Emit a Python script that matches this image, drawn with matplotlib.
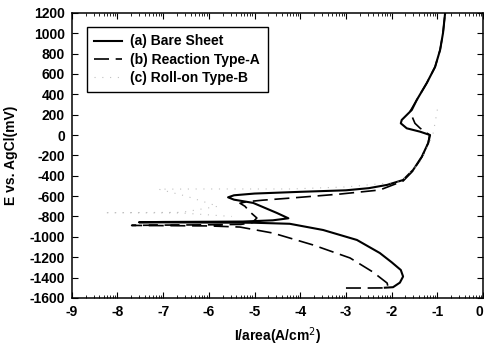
import numpy as np
import matplotlib.pyplot as plt
from matplotlib.ticker import FixedLocator

plt.rcParams['font.family'] = ['Liberation Sans', 'DejaVu Sans']
plt.rcParams['axes.unicode_minus'] = False

# (a) Bare Sheet - log current density vs potential
a_x = [-2.15, -1.97, -1.82, -1.75, -1.80, -2.00, -2.26, -2.76, -3.50, -4.23, -5.0, -6.0, -7.0, -7.53,
       -7.0, -6.0, -5.26, -4.60, -4.26, -4.51, -5.03, -5.45, -5.58, -5.45, -5.0, -4.0, -3.0, -2.5,
       -2.10, -1.75, -1.53, -1.34, -1.20, -1.16, -1.38, -1.67, -1.80, -1.78, -1.56, -1.45, -1.23,
       -1.05, -0.94, -0.876, -0.83]
a_y = [-1500, -1495, -1450, -1390, -1326, -1250, -1159, -1031, -933, -872, -862, -860, -858, -857,
       -854, -852, -850, -838, -818, -766, -667, -635, -612, -592, -575, -558, -543, -522,
       -490, -442, -343, -213, -78, 0, 33, 66, 115, 148, 246, 345, 512,
       669, 836, 1003, 1200]

# (b) Reaction Type-A
b_x = [-3.0, -2.5, -2.15, -2.08, -2.10, -2.41, -2.91, -3.72, -4.60, -5.32, -6.0, -7.0, -7.69,
       -7.0, -6.0, -5.3, -5.05, -4.95, -5.10, -5.21, -5.32, -5.17, -4.82, -4.23, -3.13, -2.26,
       -1.75, -1.53, -1.34, -1.20, -1.17, -1.38, -1.49, -1.60, -1.45, -1.23, -1.05, -0.94,
       -0.876, -0.83]
b_y = [-1503, -1503, -1502, -1490, -1454, -1346, -1208, -1080, -963, -904, -893, -890, -888,
       -885, -882, -878, -860, -815, -756, -700, -670, -655, -640, -620, -580, -540,
       -452, -350, -216, -78, 0, 68, 115, 230, 345, 512, 669, 836,
       1003, 1200]

# (c) Roll-on Type-B (faint in the scan)
c_x = [-1.0, -1.05, -1.1, -1.35, -1.8, -3.0, -4.2, -5.1, -6.2, -7.1, -6.5, -5.8, -6.6, -8.3, -6.6, -5.5]
c_y = [250, 120, 0, -250, -460, -510, -530, -530, -530, -532, -600, -700, -760, -763, -766, -800]

fig = plt.figure(figsize=(4.85, 3.48), dpi=100)
ax = fig.add_axes([0.148, 0.144, 0.848, 0.819])

ax.plot(a_x, a_y, color='black', lw=1.5, label='(a) Bare Sheet')
ax.plot(b_x, b_y, color='black', lw=1.2, dashes=(9, 4), label='(b) Reaction Type-A')
ax.plot(c_x, c_y, color='#c0c0c0', lw=0.8, dashes=(1, 6), label='(c) Roll-on Type-B')

ax.set_xlim(-9, 0)
ax.set_ylim(-1600, 1200)
ax.set_xticks(np.arange(-9, 1, 1))
ax.set_yticks(np.arange(-1600, 1201, 200))
minor = [d + np.log10(k) for d in range(-9, 0) for k in range(2, 10)]
ax.xaxis.set_minor_locator(FixedLocator(minor))
ax.tick_params(which='both', direction='in', top=True, right=True)
ax.tick_params(which='major', length=4, pad=5)
ax.tick_params(which='minor', length=2)
ax.tick_params(axis='y', which='minor', left=False, right=False)
for lab in ax.get_xticklabels() + ax.get_yticklabels():
    lab.set_fontsize(10)
    lab.set_fontweight('bold')
ax.get_xticklabels()[-1].set_horizontalalignment('right')  # keep "0" inside the figure
for s in ax.spines.values():
    s.set_linewidth(1.1)

ax.set_xlabel('I/area(A/cm$^2$)', fontsize=10, fontweight='bold', labelpad=5)
ax.set_ylabel('E vs. AgCl(mV)', fontsize=10, fontweight='bold', labelpad=8)

leg = ax.legend(loc='upper left', bbox_to_anchor=(0.036, 0.951), borderaxespad=0,
                fancybox=False, edgecolor='black', framealpha=1,
                prop={'size': 10, 'weight': 'bold'},
                handlelength=2.0, handletextpad=0.6, labelspacing=0.3, borderpad=0.55)
leg.get_frame().set_linewidth(1.0)

fig.savefig('out.png', dpi=100)
